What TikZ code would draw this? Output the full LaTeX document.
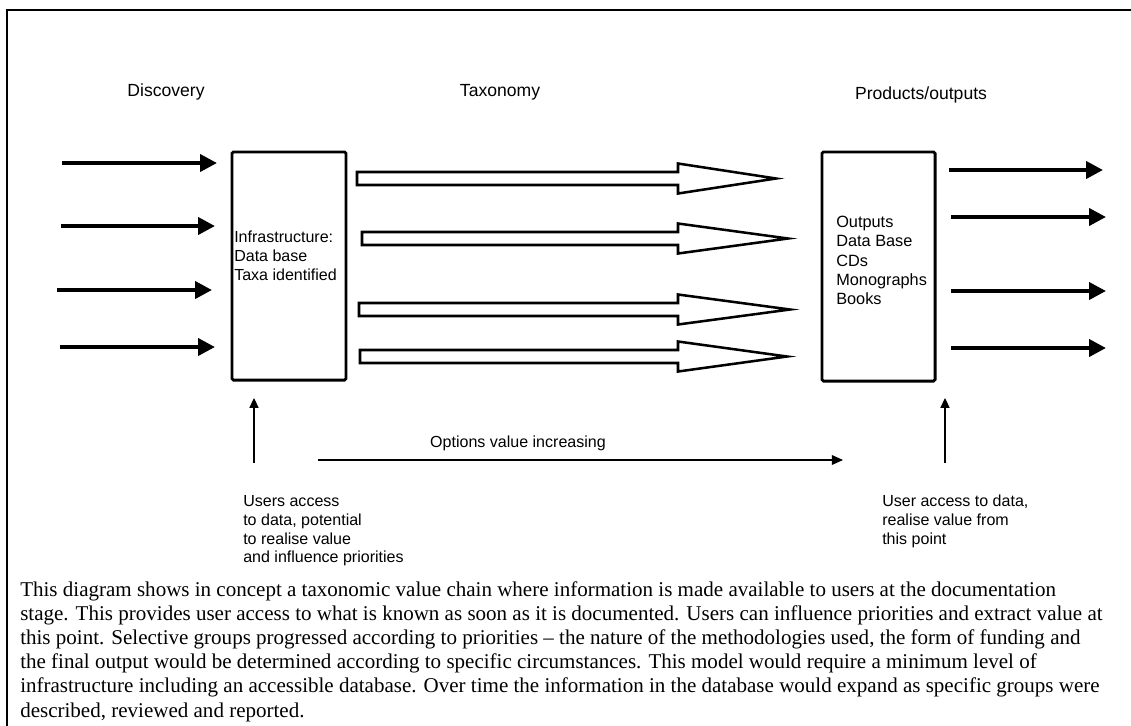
\documentclass[tikz,border=0pt]{standalone}
\usepackage{fontspec}
\setmainfont{Liberation Serif}
\setsansfont{Liberation Sans}
\usetikzlibrary{arrows.meta}
\usetikzlibrary{positioning}
\tikzset{
    heading/.style={font=\sffamily\fontsize{12.5}{15}\selectfont, inner sep=0pt},
    boxtext/.style={font=\sffamily\fontsize{11.4}{13.4}\selectfont, align=left, inner sep=0pt},
    stage/.style={draw, line width=2.1pt, rounded corners=1pt, inner sep=0pt},
    feed/.style={line width=2.8pt, -{Triangle[length=12pt,width=12pt]}},
    pointer/.style={line width=0.8pt, -{Triangle[length=7pt,width=6.5pt]}},
    hollow/.style={line width=1.8pt, line join=miter}
}
% block arrow: start x, mid y, tip x
\newcommand{\hollowarrow}[3] {
	\draw[hollow] (#1,#2-6.5) -- (678,#2-6.5) -- (678,#2-15) -- (#3,#2)
		-- (678,#2+15) -- (678,#2+6.5) -- (#1,#2+6.5) -- cycle;
}
% thick arrow: y, start x, end x
\newcommand{\feedarrow}[3] {
	\draw[feed] (#2,#1) -- (#3,#1);
}

\begin{document}
\begin{tikzpicture}[x=0.025cm, y=-0.025cm]
		\useasboundingbox (0,0) rectangle (1131,725);

		% frame
		\draw[line width=1.8pt] (7,735) -- (7,10) -- (1140,10);

		% headings
		\node[heading] (discovery) at (166,92) {Discovery};
		\node[heading] (taxonomy) at (500,92) {Taxonomy};
		\node[heading] (products) at (921,95) {Products/outputs};

		% stages
		\node[stage, minimum width=2.85cm, minimum height=5.7cm] (infra) at (289,266) {};
		\node[boxtext, anchor=north west] (infratext) at (234,231) {Infrastructure:\\Data base\\Taxa identified};

		\node[stage, minimum width=2.825cm, minimum height=5.725cm] (outputs) at (878.5,266.5) {};
		\node[boxtext, anchor=north west, font=\sffamily\fontsize{11.6}{13.7}\selectfont] (outputstext) at (836,216) {Outputs\\Data Base\\CDs\\Monographs\\Books};

		% discovery inputs
		\feedarrow{163}{62}{217}
		\feedarrow{226}{61}{215}
		\feedarrow{290}{57}{212}
		\feedarrow{347}{60}{215}

		% taxonomy
		\hollowarrow{357}{178.5}{776}
		\hollowarrow{362}{238.5}{788}
		\hollowarrow{359}{309.5}{790}
		\hollowarrow{360}{356.5}{787}

		% products
		\feedarrow{170}{949}{1103}
		\feedarrow{217}{951}{1106}
		\feedarrow{291}{951}{1106}
		\feedarrow{348}{951}{1106}

		% user access
		\coordinate (infrauser) at (254,463);
		\coordinate (outputsuser) at (945,463);
		\draw[pointer] (infrauser) -- (infrauser |- 0,398);
		\draw[pointer] (outputsuser) -- (outputsuser |- 0,398);
		\node[boxtext, anchor=north west] (usersnote) at (243,495) {Users access\\to data, potential\\to realise value\\and influence priorities};
		\node[boxtext, anchor=north west] (usernote) at (882,495) {User access to data,\\realise value from\\this point};

		% options value
		\coordinate (optstart) at (318,460);
		\coordinate (optend) at (843,460);
		\draw[pointer, -{Triangle[length=8pt,width=7pt]}] (optstart) -- (optend);
		\node[boxtext] (optlabel) at (518,443) {Options value increasing};

		% caption
		\node[anchor=north west, inner sep=0pt, align=left, font=\fontsize{14.95}{17.2}\selectfont] (caption) at (20,581) {This diagram shows in concept a taxonomic value chain where information is made available to users at the documentation\\stage. This provides user access to what is known as soon as it is documented. Users can influence priorities and extract value at\\this point. Selective groups progressed according to priorities – the nature of the methodologies used, the form of funding and\\the final output would be determined according to specific circumstances. This model would require a minimum level of\\infrastructure including an accessible database. Over time the information in the database would expand as specific groups were\\described, reviewed and reported.};
	\end{tikzpicture}
\end{document}
